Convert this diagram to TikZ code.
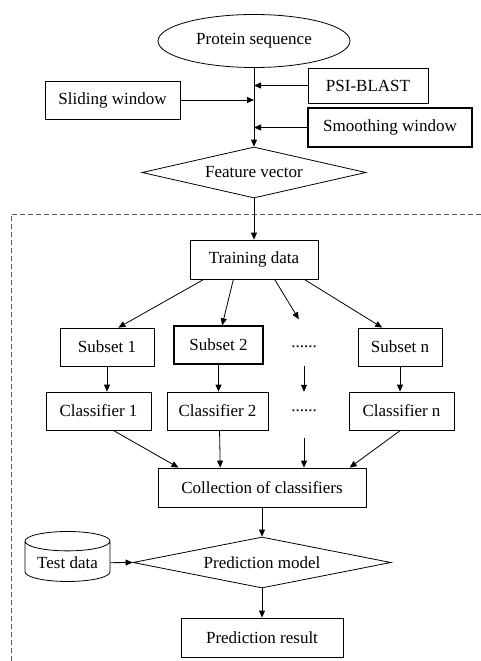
\documentclass[tikz,border=0pt]{standalone}
\usepackage{fontspec}
\setmainfont{Liberation Serif}
\usetikzlibrary{arrows.meta,positioning,shapes.geometric,calc}

\begin{document}
\begin{tikzpicture}[
  x=1pt, y=-1pt,
  font=\fontsize{17}{20}\selectfont,
  box/.style={draw, line width=0.8pt, minimum height=38pt, inner sep=2pt, align=center},
  dec/.style={draw, diamond, aspect=4, inner sep=0pt, line width=0.8pt},
  dots/.style={minimum height=38pt, inner sep=0pt},
  arr/.style={-{Triangle[length=7pt,width=6pt]}, line width=0.8pt}
]
  \useasboundingbox (0,0) rectangle (481,661);

  % feature extraction
  \node[draw, ellipse, line width=0.8pt, minimum width=192pt, minimum height=53pt] (prot) at (254,41) {Protein sequence};
  \node[box, minimum width=120pt, minimum height=35pt] (psi) at (368,85.5) {PSI-BLAST};
  \node[box, minimum width=135pt] (slide) at (112.5,100) {Sliding window};
  \node[box, minimum width=164pt, minimum height=39pt, line width=1.2pt] (smooth) at (390,127.5) {Smoothing window};
  \node[dec, minimum width=224pt, minimum height=51pt] (feat) at (254,172.5) {Feature vector};

  \draw[arr] (prot.south) -- (feat.north);
  \draw[arr] (psi) -- (psi -| prot.south);
  \draw[arr] (slide) -- (slide -| prot.south);
  \draw[arr] (smooth) -- (smooth -| prot.south);

  % ensemble part
  \draw[black!65, dash pattern=on 5pt off 3pt, line width=0.9pt] (11,661) -- (11,214) -- (481,214);

  \node[box, minimum width=128pt, minimum height=39pt] (train) at (254,259.5) {Training data};

  \node[box, minimum width=94pt] (sub1) at (107,347) {Subset 1};
  \node[box, minimum width=89pt, line width=1.3pt] (sub2) at (218.5,345) {Subset 2};
  \node[dots] (dots1) at (304,347) {......};
  \node[box, minimum width=84pt] (subn) at (400,347) {Subset n};

  \node[box, minimum width=105pt] (cls1) at (98.5,411) {Classifier 1};
  \node[box, minimum width=101pt] (cls2) at (217.5,411) {Classifier 2};
  \node[dots] (dots2) at (304,411) {......};
  \node[box, minimum width=105pt] (clsn) at (401.5,411) {Classifier n};

  \node[box, minimum width=208pt, minimum height=39pt] (coll) at (262,487.5) {Collection of classifiers};
  \node[dec, minimum width=258pt, minimum height=51pt] (pred) at (262,562.5) {Prediction model};
  \node[draw, cylinder, shape border rotate=90, aspect=0.3, line width=0.8pt,
        minimum width=85pt, minimum height=50pt, inner sep=2pt] (test) at (67.5,563) {Test data};
  \node[box, minimum width=162pt, minimum height=39pt] (res) at (262,637.5) {Prediction result};

  \draw[arr] (feat.south) -- (train.north);
  \draw[arr] ($(train.south west)!0.11!(train.south east)$) -- ($(sub1.north west)!0.62!(sub1.north east)$);
  \draw[arr] ($(train.south west)!0.34!(train.south east)$) -- ($(sub2.north west)!0.54!(sub2.north east)$);
  \draw[arr, shorten >=10pt] ($(train.south west)!0.66!(train.south east)$) -- (dots1.north);
  \draw[arr] ($(train.south west)!0.89!(train.south east)$) -- ($(subn.north west)!0.29!(subn.north east)$);

  \draw[arr] (sub1.south) -- (sub1.south |- cls1.north);
  \draw[arr] (sub2.south) -- (sub2.south |- cls2.north);
  \draw[arr] (dots1.south) -- (dots2.north);
  \draw[arr] (subn.south) -- (subn.south |- clsn.north);

  \draw[arr] ($(cls1.south west)!0.64!(cls1.south east)$) -- ($(coll.north west)!0.1!(coll.north east)$);
  \draw[arr] ($(cls2.south west)!0.52!(cls2.south east)$) -- ($(coll.north west)!0.3!(coll.north east)$);
  \draw[arr, shorten <=8pt] (dots2.south) -- (dots2.south |- coll.north);
  \draw[arr] ($(clsn.south west)!0.49!(clsn.south east)$) -- ($(coll.north west)!0.92!(coll.north east)$);

  \draw[arr] (coll) -- (pred);
  \draw[arr] (test) -- (pred.west);
  \draw[arr] (pred) -- (res);
\end{tikzpicture}
\end{document}
